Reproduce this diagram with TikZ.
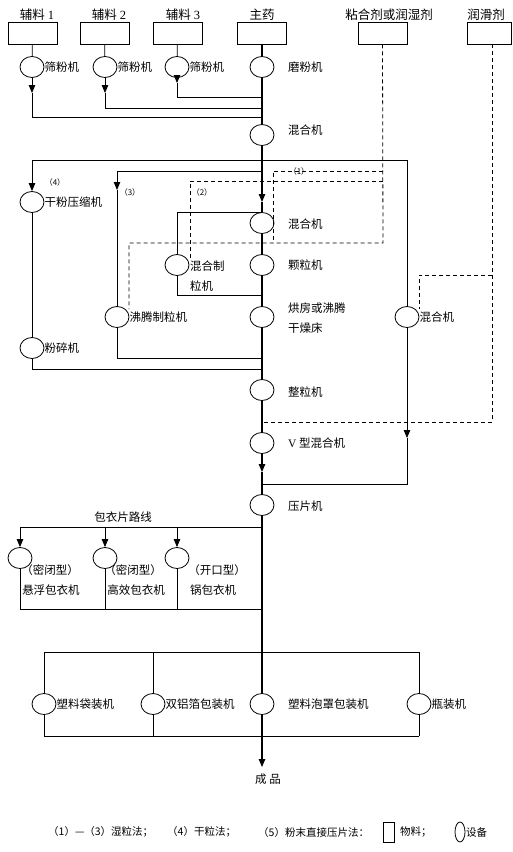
\documentclass[tikz,border=0pt]{standalone}
\usepackage{fontspec}
\setmainfont{Liberation Serif}
\newfontfamily\cjk{Noto Sans CJK SC}
\usetikzlibrary{shapes.geometric,arrows.meta}
\begin{document}
\begin{tikzpicture}[x=1pt,y=-1pt,
 eq/.style={draw,ellipse,minimum width=24pt,minimum height=21pt,inner sep=0pt,line width=0.8pt},
 mat/.style={draw,rectangle,minimum width=49pt,minimum height=22pt,inner sep=0pt,line width=0.8pt},
 lab/.style={anchor=west,inner sep=0pt,font=\cjk\fontsize{11.5}{13}\selectfont},
 ctx/.style={inner sep=0pt,font=\cjk\fontsize{11.5}{13}\selectfont},
 ttl/.style={inner sep=0pt,font=\fontsize{12.5}{14}\selectfont},
 ln/.style={line width=0.8pt},
 mainln/.style={line width=1.1pt},
 dsh/.style={line width=0.8pt,dash pattern=on 4pt off 3pt},
 arr/.style={-{Triangle[length=8pt,width=6.5pt]}},
 num/.style={inner sep=0pt,font=\cjk\fontsize{8}{9}\selectfont},
 leg/.style={anchor=west,inner sep=0pt,font=\cjk\fontsize{10.5}{12}\selectfont}]
\useasboundingbox (0,0) rectangle (512,852);

% ---- material boxes and titles
\node[mat] (r1) at (32.5,33) {};
\node[mat] (r2) at (104.5,33) {};
\node[mat] (r3) at (177.5,33) {};
\node[mat] (r4) at (262,33) {};
\node[mat] (r5) at (382.5,33) {};
\node[mat,minimum width=44pt] (r6) at (489,33) {};
\node[ttl] (t1) at (37,15) {{\cjk 辅料} 1};
\node[ttl] (t2) at (109,15) {{\cjk 辅料} 2};
\node[ttl] (t3) at (183,15) {{\cjk 辅料} 3};
\node[ttl] (t4) at (262,15) {\cjk 主药};
\node[ttl] (t5) at (389,15) {\cjk 粘合剂或润湿剂};
\node[ttl] (t6) at (486,15) {\cjk 润滑剂};

% ---- sieving / milling
\node[eq] (e1) at (32,67) {};
\node[eq] (e2) at (105,67) {};
\node[eq] (e3) at (177,67) {};
\node[eq] (e4) at (262,67) {};
\node[lab] (l1) at (e1.east) {筛粉机};
\node[lab] (l2) at (e2.east) {筛粉机};
\node[lab] (l3) at (e3.east) {筛粉机};
\node[lab] (l4) at (288,67) {磨粉机};

% ---- main chain
\node[eq] (m1) at (262,135) {};
\node[eq] (m2) at (262,223) {};
\node[eq] (kl) at (262,265) {};
\node[eq] (hf) at (262,317) {};
\node[eq] (zl) at (262,390) {};
\node[eq] (vm) at (262,443) {};
\node[eq] (yp) at (262,505) {};
\node[lab] at (288,130) {混合机};
\node[lab] at (288,224) {混合机};
\node[lab] at (288,265) {颗粒机};
\node[lab] at (288,308) {烘房或沸腾};
\node[lab] at (288,328) {干燥床};
\node[lab] at (288,392) {整粒机};
\node[lab] at (288,443) {{\rmfamily V} 型混合机};
\node[lab] at (288,506) {压片机};

% ---- side equipment
\node[eq] (dp) at (32,202) {};
\node[eq] (fs) at (32,348) {};
\node[eq] (ft) at (117,317) {};
\node[eq] (hz) at (177,265) {};
\node[eq] (rm) at (407,317) {};
\node[lab] at (dp.east) {干粉压缩机};
\node[lab] at (fs.east) {粉碎机};
\node[lab] at (ft.east) {沸腾制粒机};
\node[lab] at (190,266) {混合制};
\node[lab] at (190,286) {粒机};
\node[lab] at (rm.east) {混合机};
\node[num] at (55,182) {（4）};
\node[num] at (130,192) {（3）};
\node[num] at (202,192) {（2）};
\node[num] at (299,171) {（1）};

% ---- coating
\node[eq] (c1) at (20,558) {};
\node[eq] (c2) at (105,558) {};
\node[eq] (c3) at (177,558) {};
\node[ctx] at (123,517) {包衣片路线};
\node[ctx] at (50,570) {（密闭型）};
\node[ctx] at (51,590) {悬浮包衣机};
\node[ctx] at (133,570) {（密闭型）};
\node[ctx] at (136,590) {高效包衣机};
\node[ctx] at (217,570) {（开口型）};
\node[ctx] at (213,590) {锅包衣机};

% ---- packaging
\node[eq] (p1) at (44,704) {};
\node[eq] (p2) at (153,704) {};
\node[eq] (p3) at (262,704) {};
\node[eq] (p4) at (419,704) {};
\node[lab] at (p1.east) {塑料袋装机};
\node[lab] at (p2.east) {双铝箔包装机};
\node[lab] at (288,704) {塑料泡罩包装机};
\node[lab] at (p4.east) {瓶装机};
\node[ctx] (cp) at (268,779) {成\ 品};

% ---- legend
\node[leg] at (48,832) {（1）—（3）湿粒法；};
\node[leg] at (167,832) {（4）干粒法；};
\node[leg] at (258,832) {（5）粉末直接压片法：};
\node[draw,line width=0.8pt,minimum width=11pt,minimum height=20pt,inner sep=0pt] (lgr) at (388.5,832) {};
\node[leg] at (400,832) {物料；};
\node[draw,ellipse,line width=0.8pt,minimum width=10pt,minimum height=20pt,inner sep=0pt] (lge) at (460,832) {};
\node[leg] at (466,832) {设备};

% ---- coordinates
\coordinate (a1) at (32,93);   \coordinate (b1) at (32,117);  \coordinate (j1) at (262,117);
\coordinate (a2) at (105,93);  \coordinate (b2) at (105,108); \coordinate (j2) at (262,108);
\coordinate (a3) at (177,83);  \coordinate (b3) at (177,97);  \coordinate (j3) at (262,97);
\coordinate (am) at (262,202);
\coordinate (av) at (262,472);
\coordinate (end) at (262,767);
\coordinate (hL) at (32,160);  \coordinate (hM) at (262,160); \coordinate (hR) at (407,160);
\coordinate (s3a) at (262,171); \coordinate (s3b) at (117,171); \coordinate (s3c) at (117,190);
\coordinate (s3d) at (117,358); \coordinate (s3e) at (262,358);
\coordinate (s4d) at (32,369);  \coordinate (s4e) at (262,369);
\coordinate (s2a) at (262,212); \coordinate (s2b) at (177,212);
\coordinate (s2d) at (177,295); \coordinate (s2e) at (262,295);
\coordinate (rA) at (407,438);  \coordinate (rB) at (407,484); \coordinate (rC) at (262,484);
\coordinate (cj) at (262,527);  \coordinate (cL) at (20,527);
\coordinate (c2t) at (105,527); \coordinate (c3t) at (177,527);
\coordinate (cb1) at (20,609);  \coordinate (cb2) at (105,609); \coordinate (cb3) at (177,609); \coordinate (cbR) at (262,609);
\coordinate (pt1) at (44,652);  \coordinate (pt2) at (153,652); \coordinate (pt4) at (419,652);
\coordinate (pb1) at (44,736);  \coordinate (pb2) at (153,736); \coordinate (pb4) at (419,736);
% dashed
\coordinate (d5a) at (383,44);  \coordinate (d5b) at (383,243); \coordinate (d5c) at (129,243); \coordinate (d5d) at (129,309);
\coordinate (d5e) at (383,181); \coordinate (d2b) at (190,181); \coordinate (d2c) at (190,259);
\coordinate (d1a) at (383,171); \coordinate (d1b) at (273,171); \coordinate (d1c) at (273,243);
\coordinate (d6a) at (492,44);  \coordinate (d6b) at (492,422); \coordinate (d6c) at (262,422);
\coordinate (d6d) at (492,275); \coordinate (d6e) at (419,275); \coordinate (d6f) at (419,309);

% ---- connectors: feed lines
\draw[ln] (r1) -- (e1);
\draw[ln] (r2) -- (e2);
\draw[ln] (r3) -- (e3);
\draw[ln,arr] (e1) -- (a1);
\draw[ln,arr] (e2) -- (a2);
\draw[ln,arr] (e3) -- (a3);
\draw[ln] (a1) -- (b1) -- (j1);
\draw[ln] (a2) -- (b2) -- (j2);
\draw[ln] (a3) -- (b3) -- (j3);

% main line
\draw[mainln] (r4) -- (e4);
\draw[mainln] (e4) -- (m1);
\draw[mainln,arr] (m1) -- (am);
\draw[mainln] (am) -- (m2);
\draw[mainln] (m2) -- (kl);
\draw[mainln] (kl) -- (hf);
\draw[mainln] (hf) -- (zl);
\draw[mainln] (zl) -- (vm);
\draw[mainln,arr] (vm) -- (av);
\draw[mainln] (av) -- (yp);
\draw[mainln] (yp) -- (p3);
\draw[mainln,arr] (p3) -- (end);

% branches
\draw[ln] (hL) -- (hR);
\draw[ln,arr] (hL) -- (dp);
\draw[ln] (dp) -- (fs);
\draw[ln] (fs) -- (s4d) -- (s4e);
\draw[ln] (s3a) -- (s3b);
\draw[ln,arr] (s3b) -- (s3c);
\draw[ln] (s3c) -- (ft);
\draw[ln] (ft) -- (s3d) -- (s3e);
\draw[ln] (s2a) -- (s2b) -- (hz);
\draw[ln] (hz) -- (s2d) -- (s2e);
\draw[ln] (hR) -- (rm);
\draw[ln,arr] (rm) -- (rA);
\draw[ln] (rA) -- (rB) -- (rC);

% dashed liquids / lubricant
\draw[dsh] (r5.south) -- (d5b) -- (d5c) -- (d5d);
\draw[dsh] (d5e) -- (d2b) -- (d2c);
\draw[dsh] (d1a) -- (d1b) -- (d1c);
\draw[dsh] (r6.south -| d6a) -- (d6b) -- (d6c);
\draw[dsh] (d6d) -- (d6e) -- (d6f);

% coating
\draw[ln] (cj) -- (cL);
\draw[ln,arr] (cL) -- (c1);
\draw[ln,arr] (c2t) -- (c2);
\draw[ln,arr] (c3t) -- (c3);
\draw[ln] (c1) -- (cb1) -- (cbR);
\draw[ln] (c2) -- (cb2);
\draw[ln] (c3) -- (cb3);

% packaging
\draw[ln] (pt1) -- (pt4);
\draw[ln] (pt1) -- (p1);
\draw[ln] (pt2) -- (p2);
\draw[ln] (pt4) -- (p4);
\draw[ln] (p1) -- (pb1) -- (pb4);
\draw[ln] (p2) -- (pb2);
\draw[ln] (p4) -- (pb4);
\end{tikzpicture}
\end{document}
